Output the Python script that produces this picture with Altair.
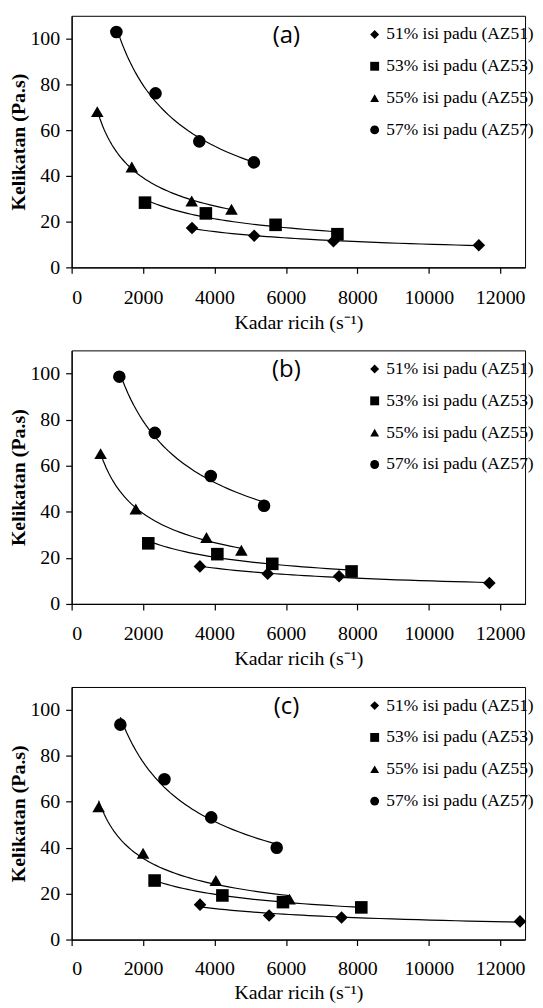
import altair as alt
import pandas as pd

# ---- data ----
series_names = ["51% isi padu (AZ51)", "53% isi padu (AZ53)",
                "55% isi padu (AZ55)", "57% isi padu (AZ57)"]
series_shapes = ["diamond", "square", "triangle-up", "circle"]
panel_labels = ["(a)", "(b)", "(c)"]

# panel (a)
a51_x = [3371, 5112, 7331, 11402]
a51_y = [17.2, 13.8, 11.4, 9.7]
a53_x = [2054, 3758, 5710, 7442]
a53_y = [28.3, 23.6, 18.6, 14.5]
a55_x = [718, 1685, 3362, 4476]
a55_y = [68.1, 43.9, 29.0, 25.4]
a57_x = [1253, 2349, 3574, 5103]
a57_y = [102.9, 76.1, 55.1, 45.9]

# panel (b)
b51_x = [3592, 5489, 7488, 11697]
b51_y = [16.3, 13.1, 12.0, 9.1]
b53_x = [2146, 4080, 5618, 7838]
b53_y = [26.3, 21.6, 17.4, 14.1]
b55_x = [811, 1796, 3776, 4752]
b55_y = [65.2, 41.2, 28.8, 23.3]
b57_x = [1335, 2330, 3896, 5388]
b57_y = [98.6, 74.2, 55.5, 42.6]

# panel (c)
c51_x = [3595, 5530, 7558, 12554]
c51_y = [15.2, 10.5, 9.6, 7.9]
c53_x = [2323, 4221, 5917, 8111]
c53_y = [25.7, 19.2, 16.3, 14.0]
c55_x = [756, 2000, 4037, 6101]
c55_y = [57.8, 37.6, 25.7, 17.6]
c57_x = [1364, 2599, 3908, 5742]
c57_y = [93.6, 69.8, 53.2, 40.0]

x_ticks = [0, 2000, 4000, 6000, 8000, 10000, 12000]
y_ticks = [0, 20, 40, 60, 80, 100]

panel_data = {
    "(a)": [(a51_x, a51_y), (a53_x, a53_y), (a55_x, a55_y), (a57_x, a57_y)],
    "(b)": [(b51_x, b51_y), (b53_x, b53_y), (b55_x, b55_y), (b57_x, b57_y)],
    "(c)": [(c51_x, c51_y), (c53_x, c53_y), (c55_x, c55_y), (c57_x, c57_y)],
}


def make_df(label):
    rows = []
    for name, (xs, ys) in zip(series_names, panel_data[label]):
        for xv, yv in zip(xs, ys):
            rows.append({"series": name, "x": xv, "y": yv})
    return pd.DataFrame(rows)


SERIF = "Liberation Serif"
PLOT_W = 456
X_MAX = 12696


def make_panel(label, height, label_pad=14, title_pad=5):
    df = make_df(label)
    base = alt.Chart(df)
    x_enc = alt.X("x:Q",
                  scale=alt.Scale(domain=[0, X_MAX], nice=False, zero=True),
                  axis=alt.Axis(values=x_ticks, format="d",
                                labelPadding=label_pad, titlePadding=title_pad,
                                title="Kadar ricih (s⁻¹)"))
    y_enc = alt.Y("y:Q",
                  scale=alt.Scale(domain=[0, 110], nice=False),
                  axis=alt.Axis(values=y_ticks, format="d",
                                title="Kelikatan (Pa.s)"))
    fit = base.transform_regression(
        "x", "y", method="pow", groupby=["series"]
    ).mark_line(color="black", strokeWidth=1.2).encode(
        x=x_enc, y=y_enc, detail="series:N"
    )
    pts = base.mark_point(filled=True, color="black", size=160, opacity=1).encode(
        x=x_enc,
        y=y_enc,
        shape=alt.Shape(
            "series:N",
            scale=alt.Scale(domain=series_names, range=series_shapes),
            legend=alt.Legend(
                title=None,
                orient="none",
                legendX=296,
                legendY=10,
                padding=0,
                symbolSize=80,
                symbolFillColor="black",
                symbolStrokeColor="black",
                symbolStrokeWidth=0,
                labelFont=SERIF,
                labelFontSize=17.5,
                labelColor="black",
                labelOffset=3,
                rowPadding=13,
                labelLimit=300,
            ),
        ),
    )
    lab = alt.Chart(pd.DataFrame({"t": [label]})).mark_text(
        font="Open Sans", fontSize=24, color="black", baseline="middle", align="center"
    ).encode(text="t:N", x=alt.value(216), y=alt.value(20))
    return alt.layer(fit, pts, lab).properties(width=PLOT_W, height=height)


chart = alt.vconcat(
    make_panel("(a)", 253),
    make_panel("(b)", 255),
    make_panel("(c)", 254, label_pad=13, title_pad=4),
    spacing=16.5,
).resolve_scale(
    x="independent", y="independent", shape="independent"
).resolve_legend(
    shape="independent"
).properties(
    padding={"left": 0, "top": 4, "right": 0, "bottom": 0}
).configure(
    font=SERIF
).configure_view(
    stroke="black", strokeWidth=1
).configure_axis(
    grid=False,
    domainColor="black",
    domainWidth=1.2,
    tickColor="black",
    tickWidth=1.2,
    tickSize=6,
    labelFont=SERIF,
    labelFontSize=20,
    labelColor="black",
    titleFont=SERIF,
    titleFontSize=20,
    titleColor="black",
).configure_axisY(
    labelPadding=6,
    titlePadding=1,
    titleFontWeight="bold",
).configure_axisX(
    titleFontWeight="normal",
)

chart.save("out.html", embed_options={"renderer": "svg", "actions": False})
